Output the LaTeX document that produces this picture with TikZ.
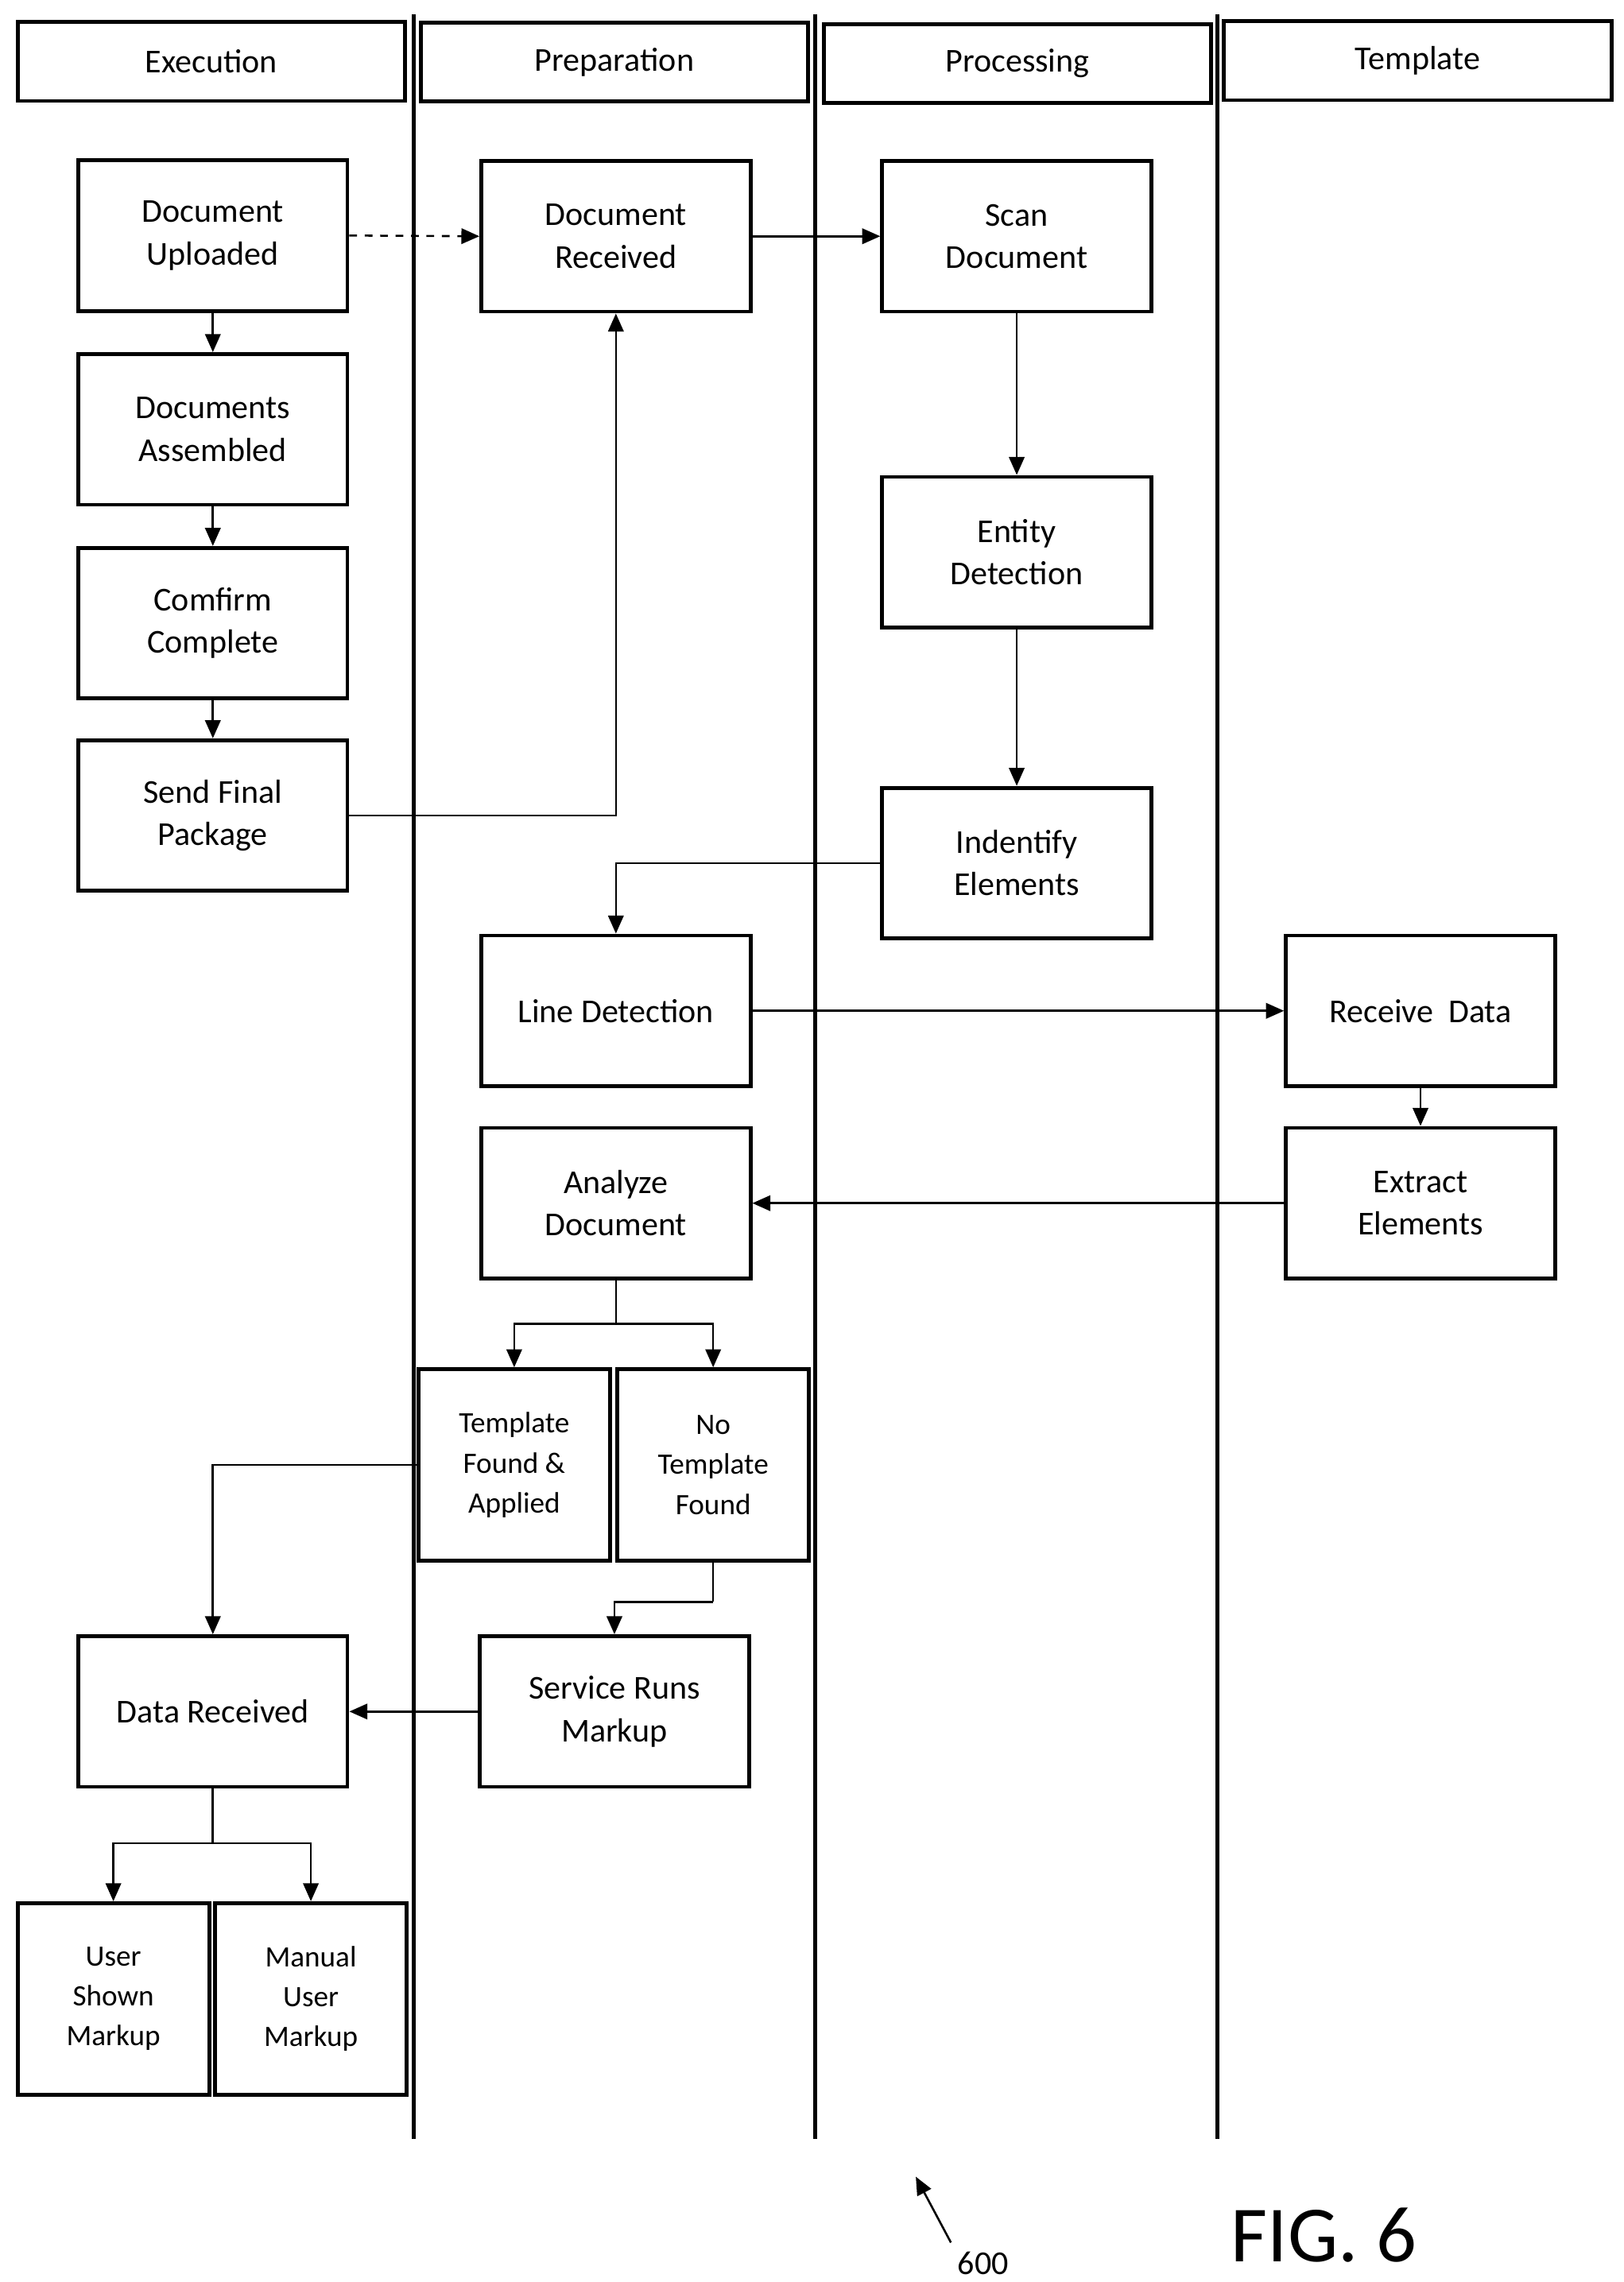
\documentclass[tikz,border=0pt]{standalone}
\usepackage{fontspec}
\setmainfont{Carlito}
\usetikzlibrary{arrows.meta}
\begin{document}
\begin{tikzpicture}[x=0.02cm,y=-0.02cm,
  box/.style={draw,line width=1.5pt,minimum width=3.68cm,minimum height=2.06cm,align=center,font=\fontsize{13}{16.5}\selectfont,inner sep=1pt},
  sbox/.style={draw,line width=1.5pt,minimum width=2.62cm,minimum height=2.62cm,align=center,font=\fontsize{11.5}{15.5}\selectfont,inner sep=1pt},
  hdr/.style={draw,line width=1.5pt,minimum width=5.3cm,minimum height=1.08cm,font=\fontsize{13}{16}\selectfont},
  lane/.style={line width=1.5pt},
  arr/.style={line width=0.8pt,-{Triangle[length=7pt,width=6pt]}}]
\useasboundingbox (0,0) rectangle (1110,1560);
\node[hdr] (h1) at (144.5,42) {Execution};
\node[hdr] (h2) at (420,42.5) {Preparation};
\node[hdr] (h3) at (695.5,43.5) {Processing};
\node[hdr] (h4) at (969,41.5) {Template};
\draw[lane] (283,10) -- (283,1462);
\draw[lane] (557,10) -- (557,1462);
\draw[lane] (832,10) -- (832,1462);
\node[box] (up) at (145.5,161) {Document\\Uploaded};
\node[box] (as) at (145.5,293.5) {Documents\\Assembled};
\node[box] (cc) at (145.5,426) {Comfirm\\Complete};
\node[box] (sf) at (145.5,557.5) {Send Final\\Package};
\node[box] (dr) at (421,161.5) {Document\\Received};
\node[box] (sc) at (695,161.5) {Scan\\Document};
\node[box] (ed) at (695,377.5) {Entity\\Detection};
\node[box] (ie) at (695,590) {Indentify\\Elements};
\node[box] (ld) at (421,691) {Line Detection};
\node[box] (rd) at (971,691) {Receive\ \ Data};
\node[box] (ee) at (971,822.5) {Extract\\Elements};
\node[box] (ad) at (421,822.5) {Analyze\\Document};
\node[sbox] (tf) at (351.5,1001.5) {Template\\Found \&\\Applied};
\node[sbox] (nt) at (487.5,1001.5) {No\\Template\\Found};
\node[box] (dar) at (145.5,1170) {Data Received};
\node[box] (sr) at (420,1170) {Service Runs\\Markup};
\node[sbox] (us) at (77.5,1366.5) {User\\Shown\\Markup};
\node[sbox] (mu) at (212.5,1366.5) {Manual\\User\\Markup};
\draw[arr,dashed] (up.east) -- (dr.west);
\draw[arr] (up) -- (as);
\draw[arr] (as) -- (cc);
\draw[arr] (cc) -- (sf);
\draw[arr] (sf.east) -| (dr.south);
\draw[arr] (dr.east) -- (sc.west);
\draw[arr] (sc) -- (ed);
\draw[arr] (ed) -- (ie);
\draw[arr] (ie.west) -| (ld.north);
\draw[arr] (ld.east) -- (rd.west);
\draw[arr] (rd) -- (ee);
\draw[arr] (ee.west) -- (ad.east);
\coordinate (j1) at (421,905);
\draw[line width=0.8pt] (ad.south) -- (j1);
\draw[arr] (j1) -| (tf.north);
\draw[arr] (j1) -| (nt.north);
\draw[arr] (tf.west) -| (dar.north);
\coordinate (j2) at (487.5,1095);
\draw[line width=0.8pt] (nt.south) -- (j2);
\draw[arr] (j2) -| (sr.north);
\draw[arr] (sr.west) -- (dar.east);
\coordinate (j3) at (145.5,1260);
\draw[line width=0.8pt] (dar.south) -- (j3);
\draw[arr] (j3) -| (us.north);
\draw[arr] (j3) -| (mu.north);
\coordinate (a1) at (650,1533);
\coordinate (a2) at (626,1488);
\draw[arr] (a1) -- (a2);
\node[font=\fontsize{13}{16}\selectfont] (n600) at (672,1547) {600};
\node[font=\fontsize{31}{36}\selectfont] (fig) at (905,1528) {FIG. 6};
\end{tikzpicture}
\end{document}
